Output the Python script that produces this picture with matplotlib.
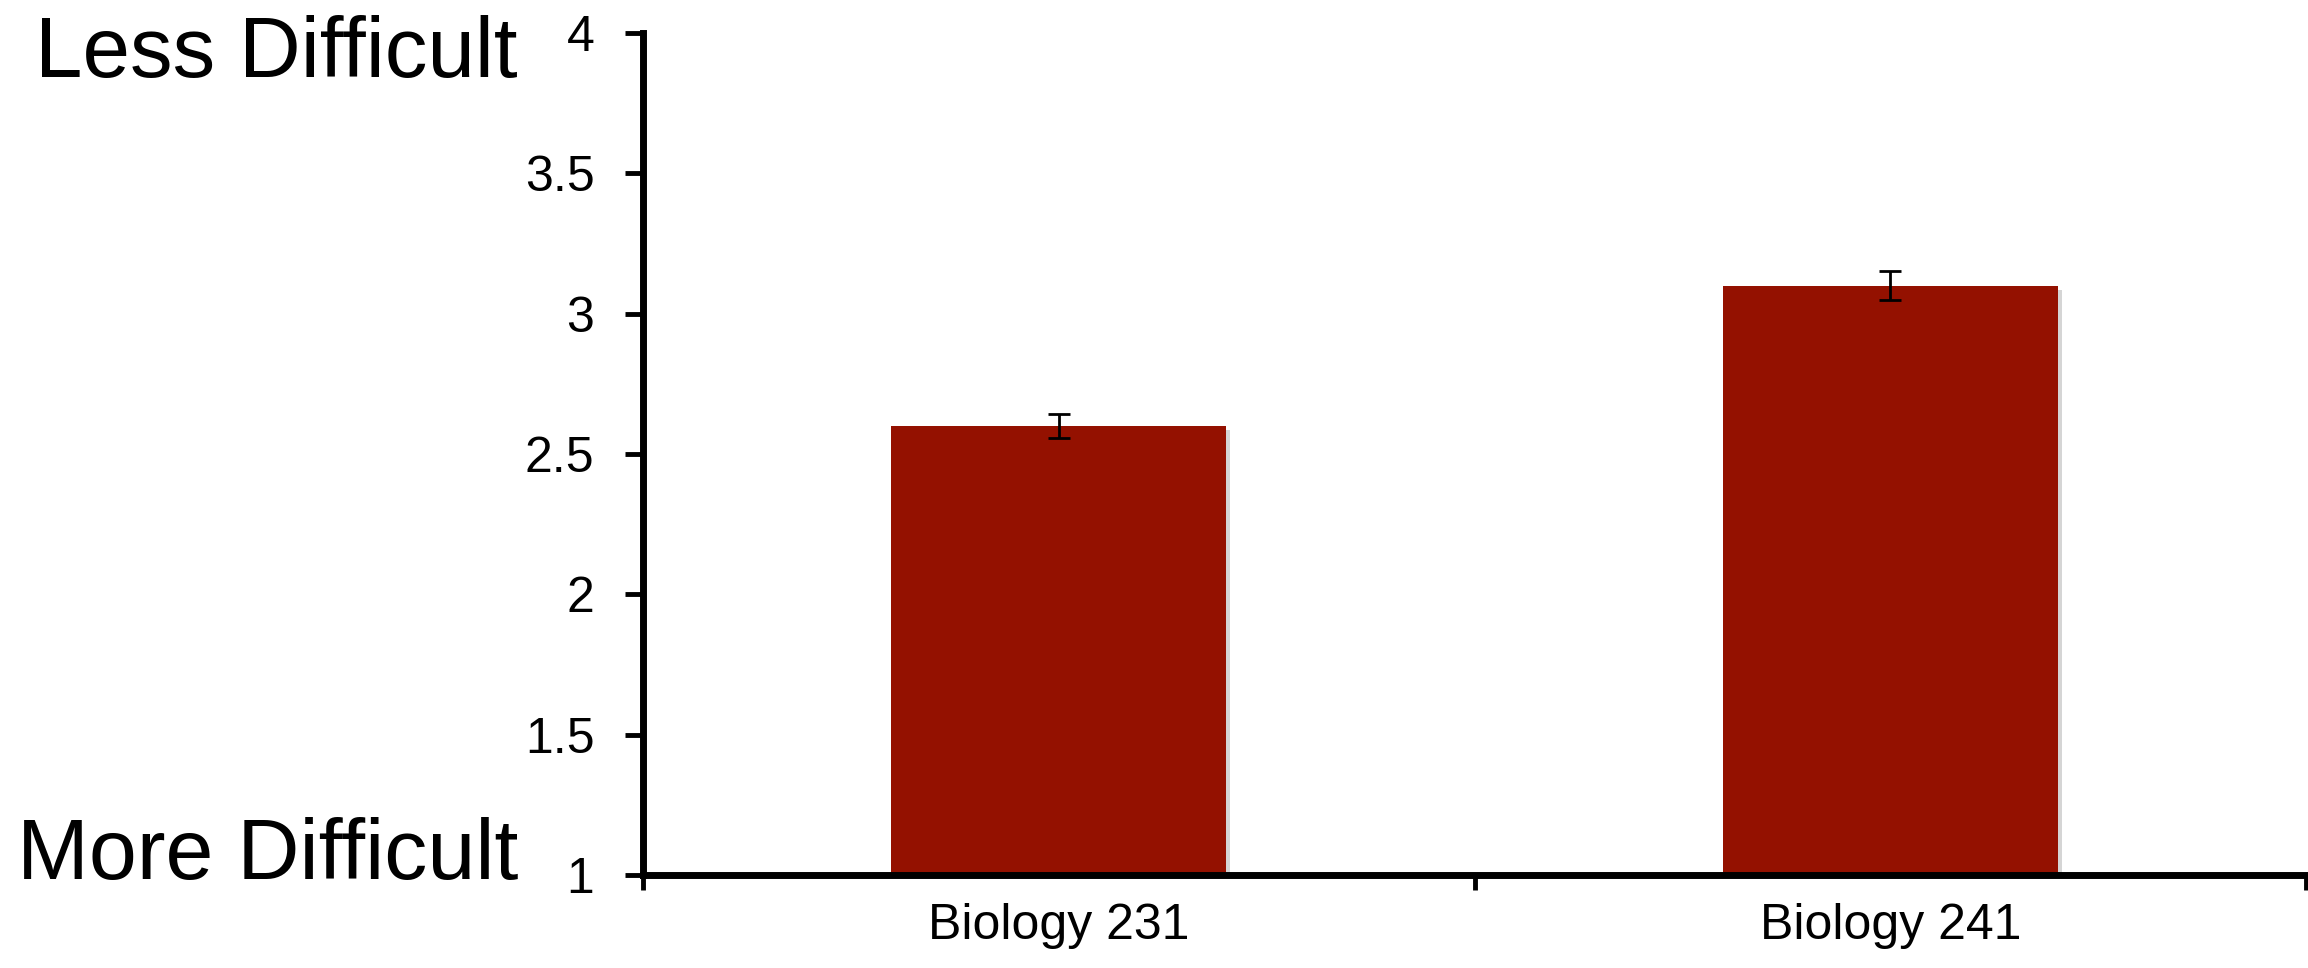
import matplotlib
matplotlib.use("Agg")
import matplotlib.pyplot as plt
import matplotlib.patheffects as pe

categories = ["Biology 231", "Biology 241"]
means = [2.60, 3.10]
errors = [0.043, 0.052]
yticks = [1, 1.5, 2, 2.5, 3, 3.5, 4]
ytick_labels = ["1", "1.5", "2", "2.5", "3", "3.5", "4"]
top_label = "Less Difficult"
bottom_label = "More Difficult"

plt.rcParams['font.family'] = ['Liberation Sans', 'DejaVu Sans']

fig = plt.figure(figsize=(23.08, 9.68), dpi=100)
ax = fig.add_axes([643/2308, 1-875/968, (2306-643)/2308, (875-33)/968])

x = list(range(len(categories)))
bars = ax.bar(x, [m - 1 for m in means], bottom=1, width=0.403, color="#941100", zorder=2)
for b in bars:
    b.set_path_effects([pe.SimplePatchShadow(offset=(3, -3), shadow_rgbFace='#888888', alpha=0.35), pe.Normal()])
ax.errorbar(x, means, yerr=errors, fmt='none', ecolor='black', elinewidth=2, capsize=8, capthick=2, zorder=3)

ax.set_xlim(-0.5, 1.5)
ax.set_ylim(1, 4)
ax.set_yticks(yticks)
ax.set_yticklabels(ytick_labels)
ax.set_xticks([-0.5, 0.5, 1.5])
ax.set_xticklabels([])
ax.set_xticks(x, minor=True)
ax.set_xticklabels(categories, minor=True)

for s in ['top', 'right']:
    ax.spines[s].set_visible(False)
for s in ['left', 'bottom']:
    ax.spines[s].set_linewidth(5)
    ax.spines[s].set_capstyle('projecting')

ax.tick_params(axis='y', direction='out', length=13, width=3.5, labelsize=36, pad=22)
ax.tick_params(axis='x', which='major', direction='out', length=11, width=3.5)
ax.tick_params(axis='x', which='minor', length=0, labelsize=36, pad=20)

fig.text(518/2308, 1-77/968, top_label, ha='right', va='baseline', fontsize=61.5)
fig.text(518/2308, 1-879/968, bottom_label, ha='right', va='baseline', fontsize=62)

fig.savefig("out.png", dpi=100)
